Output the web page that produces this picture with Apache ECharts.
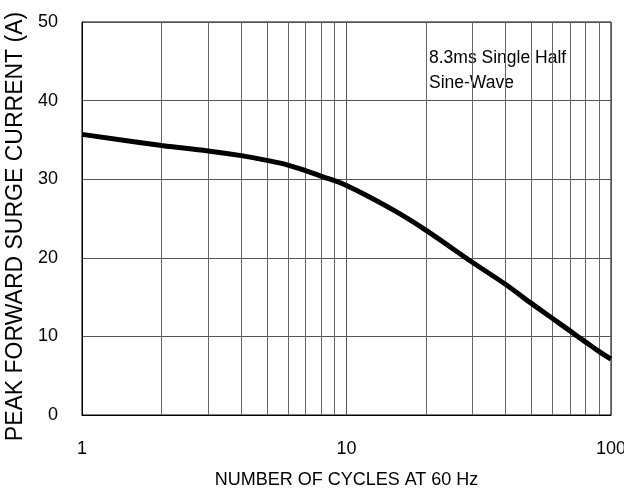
<!DOCTYPE html>
<html>
<head>
<meta charset="utf-8">
<script src="https://cdn.jsdelivr.net/npm/echarts@6/dist/echarts.min.js"></script>
<style>html,body{margin:0;padding:0;background:#fff}#c{width:624px;height:495px}</style>
</head>
<body>
<div id="c"></div>
<script>
const cycles = [1, 2, 3, 4, 5, 6, 7, 8, 10, 15, 20, 30, 40, 50, 60, 70, 80, 90, 100];
const current = [35.7, 34.3, 33.6, 33.0, 32.4, 31.8, 31.1, 30.4, 29.2, 26.1, 23.5, 19.4, 16.6, 14.2, 12.3, 10.7, 9.3, 8.1, 7.1];
const minorGrid = [2, 3, 4, 5, 6, 7, 8, 9, 20, 30, 40, 50, 60, 70, 80, 90];
const xName = 'NUMBER OF CYCLES AT 60 Hz';
const yName = 'PEAK FORWARD SURGE CURRENT (A)';
const noteLines = ['8.3ms Single Half', 'Sine-Wave'];

const font = '"Liberation Sans", Arial, sans-serif';

const chart = echarts.init(document.getElementById('c'), null, {renderer: 'canvas'});
chart.setOption({
  animation: false,
  backgroundColor: '#fff',
  grid: {left: 82, right: 13, top: 22, bottom: 80, show: true, borderColor: '#000', borderWidth: 1, containLabel: false, outerBoundsMode: 'none'},
  xAxis: {
    type: 'log', logBase: 10, min: 1, max: 100,
    name: xName, nameLocation: 'middle', nameGap: 56,
    nameTextStyle: {fontFamily: font, fontSize: 18, color: '#000'},
    axisLine: {show: true, lineStyle: {color: '#000', width: 1}},
    axisTick: {show: false},
    axisLabel: {fontFamily: font, fontSize: 18, color: '#000', margin: 25, showMinLabel: true, showMaxLabel: true},
    splitLine: {show: true, lineStyle: {color: '#555', width: 1}}
  },
  yAxis: {
    type: 'value', min: 0, max: 50, interval: 10,
    name: yName, nameLocation: 'middle', nameGap: 48, nameRotate: 90,
    nameTextStyle: {fontFamily: font, fontSize: 23, color: '#000', padding: [0, 16, 0, 0]},
    axisLine: {show: true, lineStyle: {color: '#000', width: 1}},
    axisTick: {show: false},
    axisLabel: {fontFamily: font, fontSize: 18, color: '#000', margin: 24},
    splitLine: {show: true, lineStyle: {color: '#555', width: 1}}
  },
  series: [{
    type: 'line',
    data: cycles.map((c, i) => [c, current[i]]),
    smooth: 0.4,
    showSymbol: false,
    lineStyle: {color: '#000', width: 5},
    z: 5,
    markLine: {
      silent: true,
      symbol: ['none', 'none'],
      label: {show: false},
      lineStyle: {color: '#666', width: 1, type: 'solid'},
      z: 1,
      data: minorGrid.map(v => ({xAxis: v}))
    }
  }],
  graphic: [{
    type: 'group', z: 100,
    children: [
      {type: 'rect', shape: {x: 426, y: 39, width: 184, height: 61}, style: {fill: '#fff'}},
      {type: 'text', x: 429, y: 46, style: {text: noteLines.join('\n'), font: '17.5px ' + font, fill: '#000', lineHeight: 25}}
    ]
  }]
});
</script>
</body>
</html>
